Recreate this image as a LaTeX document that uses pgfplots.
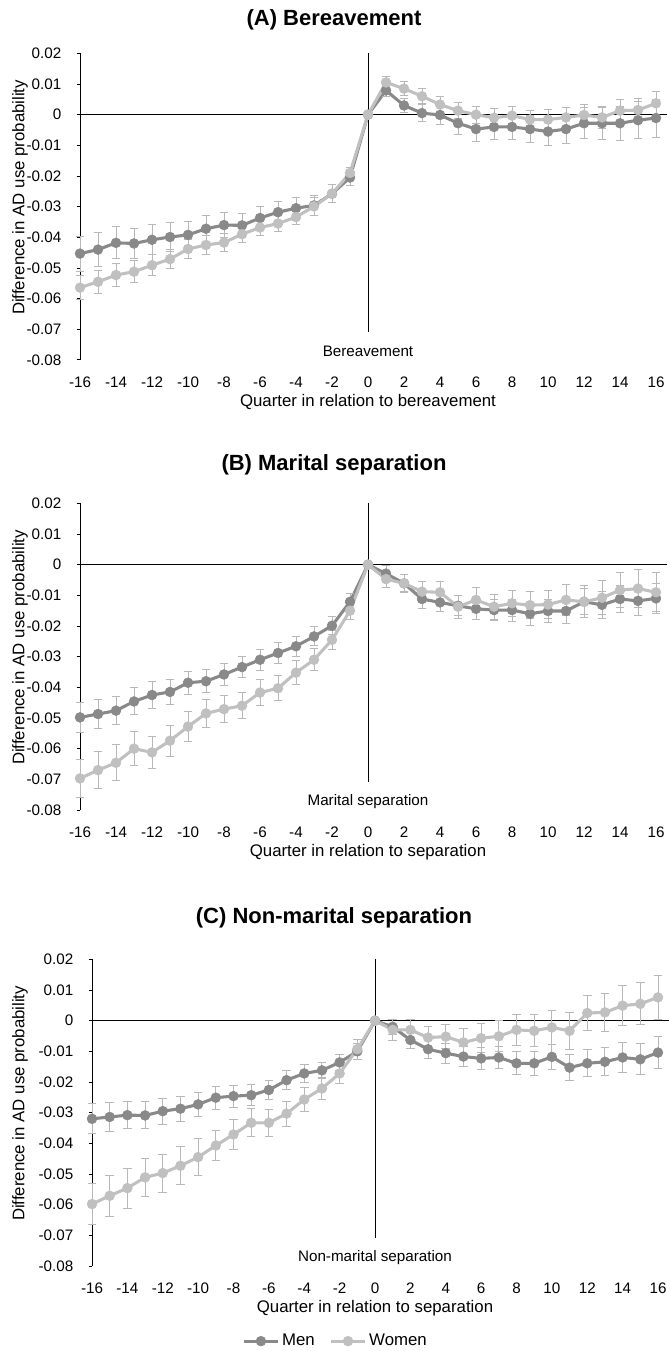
\documentclass[border=0pt]{standalone}
\usepackage{fontspec}
\setmainfont{Liberation Sans}
\usepackage{pgfplots}
\usepackage{pgfplotstable}
\pgfplotsset{compat=1.18}

\definecolor{mencol}{RGB}{137,137,137}
\definecolor{womencol}{RGB}{192,192,192}
\definecolor{errcol}{RGB}{184,184,184}

% panel A: bereavement
\pgfplotstableread{
x y e
-16 -0.0453 0.0057
-15 -0.0440 0.0055
-14 -0.0418 0.0052
-13 -0.0420 0.0050
-12 -0.0408 0.0049
-11 -0.0399 0.0047
-10 -0.0392 0.0045
-9 -0.0372 0.0042
-8 -0.0360 0.0041
-7 -0.0361 0.0039
-6 -0.0337 0.0036
-5 -0.0318 0.0035
-4 -0.0305 0.0034
-3 -0.0296 0.0032
-2 -0.0258 0.0030
-1 -0.0205 0.0026
0 0 0
1 0.0079 0.0020
2 0.0030 0.0024
3 0.0005 0.0028
4 -0.0001 0.0032
5 -0.0028 0.0036
6 -0.0047 0.0039
7 -0.0040 0.0040
8 -0.0040 0.0042
9 -0.0047 0.0044
10 -0.0055 0.0046
11 -0.0047 0.0048
12 -0.0028 0.0050
13 -0.0028 0.0053
14 -0.0028 0.0056
15 -0.0018 0.0060
16 -0.0011 0.0062
}\menA
\pgfplotstableread{
x y e
-16 -0.0564 0.0040
-15 -0.0545 0.0038
-14 -0.0523 0.0037
-13 -0.0512 0.0036
-12 -0.0491 0.0034
-11 -0.0471 0.0032
-10 -0.0438 0.0031
-9 -0.0425 0.0030
-8 -0.0417 0.0029
-7 -0.0390 0.0028
-6 -0.0368 0.0026
-5 -0.0355 0.0025
-4 -0.0334 0.0024
-3 -0.0299 0.0030
-2 -0.0258 0.0029
-1 -0.0190 0.0018
0 0 0
1 0.0105 0.0020
2 0.0085 0.0022
3 0.0060 0.0024
4 0.0033 0.0026
5 0.0013 0.0027
6 0.0000 0.0028
7 -0.0010 0.0030
8 -0.0003 0.0030
9 -0.0016 0.0031
10 -0.0016 0.0033
11 -0.0009 0.0034
12 -0.0001 0.0035
13 -0.0009 0.0036
14 0.0013 0.0037
15 0.0015 0.0038
16 0.0037 0.0040
}\womenA

% panel B: marital separation
\pgfplotstableread{
x y e
-16 -0.0498 0.0050
-15 -0.0487 0.0048
-14 -0.0476 0.0046
-13 -0.0446 0.0044
-12 -0.0425 0.0043
-11 -0.0415 0.0041
-10 -0.0385 0.0038
-9 -0.0380 0.0037
-8 -0.0358 0.0036
-7 -0.0334 0.0035
-6 -0.0310 0.0034
-5 -0.0288 0.0033
-4 -0.0266 0.0032
-3 -0.0234 0.0031
-2 -0.0199 0.0030
-1 -0.0121 0.0028
0 0 0
1 -0.0029 0.0025
2 -0.0061 0.0028
3 -0.0112 0.0030
4 -0.0123 0.0031
5 -0.0134 0.0033
6 -0.0144 0.0034
7 -0.0148 0.0035
8 -0.0148 0.0036
9 -0.0160 0.0038
10 -0.0151 0.0039
11 -0.0151 0.0040
12 -0.0121 0.0042
13 -0.0131 0.0043
14 -0.0112 0.0045
15 -0.0118 0.0047
16 -0.0110 0.0048
}\menB
\pgfplotstableread{
x y e
-16 -0.0697 0.0063
-15 -0.0670 0.0060
-14 -0.0646 0.0058
-13 -0.0600 0.0055
-12 -0.0612 0.0053
-11 -0.0574 0.0050
-10 -0.0528 0.0048
-9 -0.0485 0.0046
-8 -0.0471 0.0044
-7 -0.0460 0.0043
-6 -0.0417 0.0042
-5 -0.0403 0.0040
-4 -0.0352 0.0038
-3 -0.0310 0.0036
-2 -0.0245 0.0031
-1 -0.0150 0.0029
0 0 0
1 -0.0047 0.0028
2 -0.0061 0.0030
3 -0.0088 0.0032
4 -0.0090 0.0035
5 -0.0137 0.0037
6 -0.0115 0.0039
7 -0.0137 0.0041
8 -0.0126 0.0043
9 -0.0132 0.0045
10 -0.0130 0.0047
11 -0.0115 0.0050
12 -0.0121 0.0052
13 -0.0108 0.0055
14 -0.0083 0.0058
15 -0.0078 0.0062
16 -0.0090 0.0064
}\womenB

% panel C: non-marital separation
\pgfplotstableread{
x y e
-16 -0.0320 0.0049
-15 -0.0314 0.0047
-14 -0.0308 0.0045
-13 -0.0309 0.0044
-12 -0.0295 0.0042
-11 -0.0287 0.0041
-10 -0.0273 0.0040
-9 -0.0251 0.0038
-8 -0.0246 0.0036
-7 -0.0243 0.0034
-6 -0.0226 0.0032
-5 -0.0194 0.0030
-4 -0.0172 0.0028
-3 -0.0162 0.0027
-2 -0.0136 0.0026
-1 -0.0100 0.0026
0 0 0
1 -0.0020 0.0025
2 -0.0063 0.0028
3 -0.0093 0.0030
4 -0.0106 0.0032
5 -0.0117 0.0034
6 -0.0123 0.0035
7 -0.0120 0.0036
8 -0.0139 0.0038
9 -0.0139 0.0039
10 -0.0118 0.0040
11 -0.0153 0.0042
12 -0.0139 0.0044
13 -0.0134 0.0046
14 -0.0120 0.0048
15 -0.0126 0.0050
16 -0.0104 0.0052
}\menC
\pgfplotstableread{
x y e
-16 -0.0598 0.0068
-15 -0.0571 0.0066
-14 -0.0546 0.0065
-13 -0.0511 0.0063
-12 -0.0497 0.0062
-11 -0.0473 0.0062
-10 -0.0445 0.0060
-9 -0.0407 0.0050
-8 -0.0371 0.0048
-7 -0.0333 0.0046
-6 -0.0333 0.0044
-5 -0.0303 0.0041
-4 -0.0257 0.0039
-3 -0.0221 0.0036
-2 -0.0172 0.0034
-1 -0.0093 0.0033
0 0 0
1 -0.0030 0.0035
2 -0.0030 0.0033
3 -0.0055 0.0035
4 -0.0052 0.0040
5 -0.0071 0.0045
6 -0.0057 0.0048
7 -0.0051 0.0050
8 -0.0030 0.0050
9 -0.0033 0.0052
10 -0.0022 0.0055
11 -0.0033 0.0060
12 0.0025 0.0058
13 0.0027 0.0062
14 0.0049 0.0066
15 0.0055 0.0068
16 0.0076 0.0072
}\womenC

\pgfplotsset{
  panel/.style={
    scale only axis,
    height=230pt,
    xmin=-16, xmax=16,
    ymin=-0.08, ymax=0.02,
    clip=false,
    scaled y ticks=false,
    axis lines*=left,
    x axis line style={draw=none},
    y axis line style={black, line width=0.75pt},
    xtick={-16,-14,...,16},
    xticklabels={-16,-14,-12,-10,-8,-6,-4,-2,0,2,4,6,8,10,12,14,16},
    xtick style={draw=none},
    ytick={-0.08,-0.07,-0.06,-0.05,-0.04,-0.03,-0.02,-0.01,0,0.01,0.02},
    yticklabels={-0.08,-0.07,-0.06,-0.05,-0.04,-0.03,-0.02,-0.01,0,0.01,0.02},
    ytick style={black, line width=0.75pt},
    tick align=outside,
    major tick length=2.5pt,
    ticklabel style={font=\fontsize{11.4}{13}\selectfont, text=black},
    xticklabel style={anchor=center, yshift=-14.25pt},
    yticklabel style={xshift=-8pt},
    ylabel={Difference in AD use probability},
    label style={font=\fontsize{12.6}{15}\selectfont},
    xlabel style={at={(axis description cs:0.5,0)}, anchor=center, yshift=-31.5pt},
  },
  ser/.style={
    color=#1, line width=2.3pt, mark=*, mark size=3.7pt,
    mark options={fill=#1, draw=#1, line width=0.4pt},
    error bars/.cd, y dir=both, y explicit,
    error bar style={errcol, line width=0.75pt},
    error mark options={rotate=90, errcol, mark size=3.2pt, line width=0.75pt},
  },
}

\newcommand{\eventline}[1]{%
  \draw[black, line width=0.6pt] (axis cs:-16,0) -- (axis cs:16.6,0);
  \draw[black, line width=0.6pt] (axis cs:0,0.02) -- (axis cs:0,-0.071);
  \node[font=\fontsize{11.4}{13}\selectfont] at (axis cs:0,-0.0772) {#1};
}

\begin{document}
\begin{tikzpicture}
\path[use as bounding box] (0,0) rectangle (501pt,-1013.25pt);

% (A)
\begin{axis}[panel, width=432pt, at={(60pt,-270pt)}, anchor=south west,
  xlabel={Quarter in relation to bereavement},
  ylabel style={at={(axis description cs:-0.104,0.53)}, anchor=center}]
\eventline{Bereavement}
\addplot[ser=mencol] table[x=x, y=y, y error=e] {\menA};
\addplot[ser=womencol] table[x=x, y=y, y error=e] {\womenA};
\end{axis}

% (B)
\begin{axis}[panel, width=432pt, at={(60pt,-607.5pt)}, anchor=south west,
  xlabel={Quarter in relation to separation},
  ylabel style={at={(axis description cs:-0.104,0.53)}, anchor=center}]
\eventline{Marital separation}
\addplot[ser=mencol] table[x=x, y=y, y error=e] {\menB};
\addplot[ser=womencol] table[x=x, y=y, y error=e] {\womenB};
\end{axis}

% (C)
\begin{axis}[panel, width=424.5pt, at={(69pt,-949.5pt)}, anchor=south west,
  xlabel={Quarter in relation to separation},
  ylabel style={at={(axis description cs:-0.127,0.53)}, anchor=center},
  legend style={at={(axis description cs:0.431,-0.245)}, anchor=center,
    draw=none, fill=none, inner sep=0pt,
    font=\fontsize{12.6}{15}\selectfont,
    /tikz/every even column/.append style={column sep=9pt}},
  legend columns=2,
  legend image code/.code={%
    \draw[#1, mark repeat=2, mark phase=2] plot coordinates {(0pt,0pt) (12.75pt,0pt) (25.5pt,0pt)};}]
\eventline{Non-marital separation}
\addplot[ser=mencol] table[x=x, y=y, y error=e] {\menC};
\addlegendentry{Men}
\addplot[ser=womencol] table[x=x, y=y, y error=e] {\womenC};
\addlegendentry{Women}
\end{axis}

\node[font=\bfseries\fontsize{16.5}{19}\selectfont] at (250.5pt,-15pt) {(A) Bereavement};
\node[font=\bfseries\fontsize{16.5}{19}\selectfont] at (250.5pt,-348.75pt) {(B) Marital separation};
\node[font=\bfseries\fontsize{16.5}{19}\selectfont] at (250.5pt,-688.5pt) {(C) Non-marital separation};
\end{tikzpicture}
\end{document}
